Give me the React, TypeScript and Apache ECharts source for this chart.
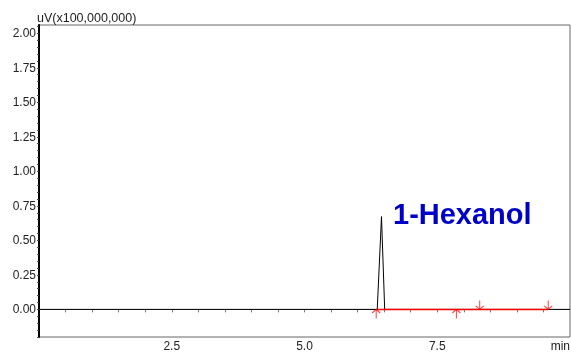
import React, { useEffect, useRef } from "react";
import * as echarts from "echarts";

const yLabelValues = [0, 0.25, 0.5, 0.75, 1.0, 1.25, 1.5, 1.75, 2.0];
const yMinorTicks = [
  -0.2, -0.15, -0.1, -0.05, 0, 0.05, 0.1, 0.15, 0.2, 0.25, 0.3, 0.35, 0.4, 0.45, 0.5, 0.55, 0.6, 0.65,
  0.7, 0.75, 0.8, 0.85, 0.9, 0.95, 1.0, 1.05, 1.1, 1.15, 1.2, 1.25, 1.3, 1.35, 1.4, 1.45, 1.5, 1.55,
  1.6, 1.65, 1.7, 1.75, 1.8, 1.85, 1.9, 1.95, 2.0, 2.05,
];
const xLabelValues = [2.5, 5.0, 7.5];
const chromTime = [0, 6.37, 6.45, 6.51, 10];
const chromSignal = [0, 0, 0.672, 0, 0];
const baselineTime = [6.35, 9.59];
const upArrowTimes = [6.35, 7.86];
const downArrowTimes = [8.3, 9.59];
const peakName = "1-Hexanol";

const arrowUp = "path://M5 0 L5 10 M1 4 L5 0 L9 4";
const arrowDown = "path://M5 0 L5 10 M1 6 L5 10 L9 6";

export default function App() {
  const ref = useRef<HTMLDivElement>(null);
  useEffect(() => {
    if (!ref.current) return;
    const chart = echarts.init(ref.current, null, { renderer: "svg" });
    const font = "'Liberation Sans', Arial, sans-serif";
    chart.setOption({
      animation: false,
      grid: {
        left: 39,
        right: 1,
        top: 25,
        bottom: 14.5,
        show: true,
        borderColor: "#666",
        borderWidth: 1,
      },
      xAxis: {
        type: "value",
        min: 0,
        max: 10,
        interval: 0.5,
        axisLine: { show: true, lineStyle: { color: "#888", width: 1 } },
        axisTick: { show: true, length: 3, lineStyle: { color: "#777" } },
        axisLabel: {
          margin: 3,
          fontSize: 12,
          fontFamily: font,
          color: "#222",
          showMinLabel: false,
          showMaxLabel: false,
          formatter: (v: number) => (xLabelValues.some((x) => Math.abs(x - v) < 1e-6) ? v.toFixed(1) : ""),
        },
        splitLine: { show: false },
      },
      yAxis: {
        type: "value",
        min: -0.2,
        max: 2.06,
        axisLine: { show: true, onZero: false, lineStyle: { color: "#000", width: 2 } },
        axisTick: { show: true, length: 2, customValues: yMinorTicks, lineStyle: { color: "#444" } },
        axisLabel: {
          margin: 3,
          fontSize: 12,
          fontFamily: font,
          color: "#222",
          customValues: yLabelValues,
          formatter: (v: number) => v.toFixed(2),
        },
        splitLine: { show: false },
      },
      graphic: [
        {
          type: "text",
          left: 37,
          top: 11,
          style: { text: "uV(x100,000,000)", fontSize: 12.5, fontFamily: font, fill: "#222" },
        },
        {
          type: "text",
          right: 1,
          top: 340,
          style: { text: "min", fontSize: 12, fontFamily: font, fill: "#222" },
        },
        {
          type: "text",
          left: 393,
          top: 199,
          style: { text: peakName, fontSize: 29, fontWeight: "bold", fontFamily: font, fill: "#0000c8" },
        },
      ],
      series: [
        {
          type: "line",
          data: chromTime.map((t, i) => [t, chromSignal[i]]),
          showSymbol: false,
          lineStyle: { color: "#000", width: 1 },
          z: 2,
        },
        {
          type: "line",
          data: baselineTime.map((t) => [t, 0]),
          showSymbol: false,
          lineStyle: { color: "#ff0000", width: 1.5 },
          z: 3,
        },
        {
          type: "scatter",
          data: upArrowTimes.map((t) => [t, 0]),
          symbol: arrowUp,
          symbolSize: [8, 9],
          symbolOffset: [0, 4.5],
          itemStyle: { color: "none", borderColor: "#ff0000", borderWidth: 1 },
          z: 4,
        },
        {
          type: "scatter",
          data: downArrowTimes.map((t) => [t, 0]),
          symbol: arrowDown,
          symbolSize: [8, 9],
          symbolOffset: [0, -4.5],
          itemStyle: { color: "none", borderColor: "#ff0000", borderWidth: 1 },
          z: 4,
        },
      ],
    });
    return () => chart.dispose();
  }, []);
  return <div ref={ref} style={{ position: "fixed", left: 0, top: 0, width: 571, height: 352 }} />;
}
